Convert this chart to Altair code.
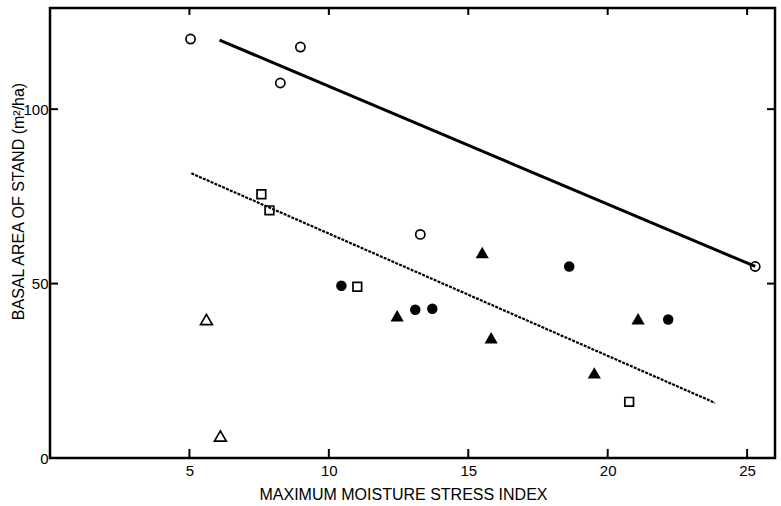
import altair as alt
import pandas as pd

# Data
open_circle_x = [5.04, 8.26, 8.98, 13.28, 25.29]
open_circle_y = [120.1, 107.5, 117.8, 64.1, 54.9]

open_square_x = [7.58, 7.87, 11.02, 20.77]
open_square_y = [75.6, 71.0, 49.1, 16.1]

filled_circle_x = [10.45, 13.1, 13.71, 18.62, 22.17]
filled_circle_y = [49.4, 42.5, 42.8, 54.9, 39.7]

filled_triangle_x = [12.45, 15.5, 15.82, 19.52, 21.09]
filled_triangle_y = [40.8, 58.9, 34.5, 24.4, 39.9]

open_triangle_x = [5.61, 6.11]
open_triangle_y = [39.7, 6.3]

solid_line_x = [6.08, 25.29]
solid_line_y = [119.8, 54.9]

dashed_line_x = [5.07, 23.85]
dashed_line_y = [81.6, 15.8]

x_ticks = [5, 10, 15, 20, 25]
y_ticks = [0, 50, 100]

W, H = 725, 450
FONT = "Liberation Sans"

xs = alt.Scale(domain=[0, 26], nice=False, zero=False)
ys = alt.Scale(domain=[0, 129], nice=False, zero=False)


def pts(xv, yv, shape, filled, size):
    df = pd.DataFrame({"x": xv, "y": yv})
    return alt.Chart(df).mark_point(
        shape=shape, filled=filled, size=size, color="black",
        strokeWidth=1.7, opacity=1
    ).encode(
        x=alt.X("x:Q", scale=xs),
        y=alt.Y("y:Q", scale=ys),
    )


base_axes = alt.Chart(pd.DataFrame({"x": [0], "y": [0]})).mark_point(opacity=0).encode(
    x=alt.X("x:Q", scale=xs,
            axis=alt.Axis(values=x_ticks, title="MAXIMUM MOISTURE STRESS INDEX",
                          grid=False, tickSize=0, domain=False, labelPadding=5,
                          labelFontSize=15, labelFont=FONT, labelColor="black",
                          titleFont=FONT, titleFontSize=16, titleFontWeight="normal",
                          titleColor="black", titleX=353, titleY=28)),
    y=alt.Y("y:Q", scale=ys,
            axis=alt.Axis(values=y_ticks, title="BASAL AREA OF STAND (m²/ha)",
                          grid=False, tickSize=0, domain=False, labelPadding=2,
                          labelFontSize=15, labelFont=FONT, labelColor="black",
                          titleFont=FONT, titleFontSize=16, titleFontWeight="normal",
                          titleColor="black", titleX=-32, titleY=193,
                          titleAngle=-90, titleBaseline="middle")),
)

xt = pd.DataFrame({"x": x_ticks})
yt = pd.DataFrame({"y": [50, 100]})

x_ticks_bottom = alt.Chart(xt).mark_rule(color="black", strokeWidth=2).encode(
    x=alt.X("x:Q", scale=xs), y=alt.value(H), y2=alt.value(H - 9))
x_ticks_top = alt.Chart(xt).mark_rule(color="black", strokeWidth=2).encode(
    x=alt.X("x:Q", scale=xs), y=alt.value(0), y2=alt.value(7))
y_ticks_left = alt.Chart(yt).mark_rule(color="black", strokeWidth=2).encode(
    y=alt.Y("y:Q", scale=ys), x=alt.value(0), x2=alt.value(8))
y_ticks_right = alt.Chart(yt).mark_rule(color="black", strokeWidth=2).encode(
    y=alt.Y("y:Q", scale=ys), x=alt.value(W), x2=alt.value(W - 8))

solid = alt.Chart(pd.DataFrame({"x": solid_line_x, "y": solid_line_y})).mark_line(
    color="black", strokeWidth=3).encode(
    x=alt.X("x:Q", scale=xs), y=alt.Y("y:Q", scale=ys))
dashed = alt.Chart(pd.DataFrame({"x": dashed_line_x, "y": dashed_line_y})).mark_line(
    color="black", strokeWidth=2.2, strokeDash=[3, 1.2]).encode(
    x=alt.X("x:Q", scale=xs), y=alt.Y("y:Q", scale=ys))

chart = alt.layer(
    base_axes,
    x_ticks_bottom, x_ticks_top, y_ticks_left, y_ticks_right,
    solid, dashed,
    pts(open_circle_x, open_circle_y, "circle", False, 85),
    pts(open_square_x, open_square_y, "square", False, 75),
    pts(filled_circle_x, filled_circle_y, "circle", True, 110),
    pts(filled_triangle_x, filled_triangle_y, "triangle-up", True, 175),
    pts(open_triangle_x, open_triangle_y, "triangle-up", False, 140),
).properties(
    width=W, height=H,
    autosize=alt.AutoSizeParams(type="none"),
    padding={"left": 50, "top": 8, "right": 6, "bottom": 48},
    background="white",
).configure_view(stroke="black", strokeWidth=2.5)

chart.save("out.html", embed_options={"renderer": "svg", "actions": False})
